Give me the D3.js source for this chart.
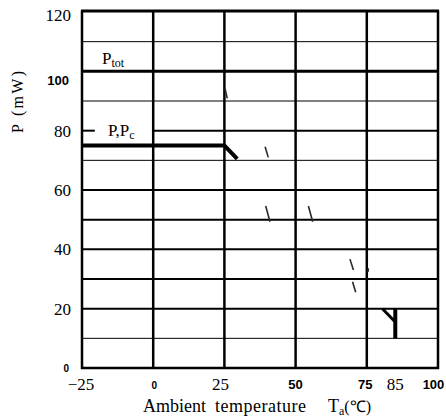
<!DOCTYPE html>
<html>
<head>
<meta charset="utf-8">
<script src="https://cdn.jsdelivr.net/npm/d3@7"></script>
<style>
  body { margin: 0; background: #fff; }
  text { fill: #000; }
</style>
</head>
<body>
<div id="chart"></div>
<script>
// Chart values
const tempTicks = [-25, 0, 25, 50, 75, 85, 100];
const tempTickLabels = ["\u221225", "0", "25", "50", "75", "85", "100"];
const powerTicks = [0, 20, 40, 60, 80, 100, 120];
const gridTemps = [-25, 0, 25, 50, 75, 100];
const gridPowers = [10, 20, 30, 40, 50, 60, 70, 80, 90, 100, 110];
const ptotLevel = 100;
const pcCurve = [[-25, 75], [25, 75], [29.5, 70.5]];
// broken pieces of the dashed derating line (scan fragments)
const deratingFragments = [
  [[25.2, 94.3], [26.0, 90.9]],
  [[39.3, 74.6], [40.4, 71.0]],
  [[39.5, 54.6], [41.0, 49.3]],
  [[54.5, 54.6], [56.0, 49.3]],
  [[69.1, 36.7], [70.3, 33.0]],
  [[70.0, 29.1], [71.1, 25.5]],
  [[75.6, 33.6], [75.4, 32.4]]
];
const cutoffArm = [[80.5, 20], [85, 15.5]];
const cutoffStem = [[85, 20], [85, 10]];

const width = 446;
const height = 420;

const x = d3.scaleLinear().domain([-25, 100]).range([82, 438]);
const y = d3.scaleLinear().domain([0, 120]).range([368, 12]);

const serif = "'Liberation Serif', 'Times New Roman', serif";
const sans = "'Liberation Sans', Arial, sans-serif";

const svg = d3.select("#chart")
    .append("svg")
    .attr("width", width)
    .attr("height", height);

const line = d3.line().x(d => x(d[0])).y(d => y(d[1]));

// horizontal grid lines
const thin = new Set([10, 70, 90, 110]);
gridPowers.forEach(p => {
    // the 80 line is broken around the P,Pc label
    const spans = p === 80 ? [[-25, -20.5], [0, 100]] : [[-25, 100]];
    spans.forEach(s => {
        svg.append("line")
            .attr("x1", x(s[0])).attr("x2", x(s[1]))
            .attr("y1", y(p)).attr("y2", y(p))
            .attr("stroke", "#000")
            .attr("stroke-width", p === ptotLevel ? 3 : thin.has(p) ? 1 : 2);
    });
});

// vertical grid lines
svg.append("g").selectAll("line")
    .data(gridTemps)
    .enter()
    .append("line")
    .attr("x1", d => x(d)).attr("x2", d => x(d))
    .attr("y1", y(120) - 1.5).attr("y2", y(0) + 1)
    .attr("stroke", "#000")
    .attr("stroke-width", 2.5);

// top and bottom border
svg.append("line")
    .attr("x1", x(-25) - 1).attr("x2", x(100) + 1)
    .attr("y1", y(120) - 1).attr("y2", y(120) - 1)
    .attr("stroke", "#000").attr("stroke-width", 3);
svg.append("line")
    .attr("x1", x(-25) - 1).attr("x2", x(100) + 1)
    .attr("y1", y(0)).attr("y2", y(0))
    .attr("stroke", "#000").attr("stroke-width", 2.5);

// P, Pc curve
svg.append("path")
    .attr("d", line(pcCurve))
    .attr("fill", "none")
    .attr("stroke", "#000")
    .attr("stroke-width", 4);

// dashed derating fragments
svg.append("g").selectAll("path")
    .data(deratingFragments)
    .enter()
    .append("path")
    .attr("d", line)
    .attr("fill", "none")
    .attr("stroke", "#2a2a2a")
    .attr("stroke-width", 1.6);

// cut-off mark at 85
svg.append("path")
    .attr("d", line(cutoffArm))
    .attr("fill", "none").attr("stroke", "#000").attr("stroke-width", 3);
svg.append("path")
    .attr("d", line(cutoffStem))
    .attr("fill", "none").attr("stroke", "#000").attr("stroke-width", 4);

// y tick labels
const sansY = new Set([0, 100]);
const yOffset = {120: 3, 100: 10};
svg.append("g").selectAll("text")
    .data(powerTicks)
    .enter()
    .append("text")
    .attr("x", d => sansY.has(d) ? 69 : 71)
    .attr("y", d => y(d) + (yOffset[d] || 0) + (sansY.has(d) ? 4 : 6))
    .attr("text-anchor", "end")
    .style("font-family", d => sansY.has(d) ? sans : serif)
    .style("font-weight", d => sansY.has(d) ? "bold" : "normal")
    .style("font-size", d => d === 0 ? "10px" : sansY.has(d) ? "13px" : "17px")
    .text(d => d);

// x tick labels
const sansX = new Set([0, 50, 75, 100]);
const xOffset = {25: -4, 85: 0, 100: -4.5, 75: -1.5, 0: 1, "-25": -1};
svg.append("g").selectAll("text")
    .data(tempTicks)
    .enter()
    .append("text")
    .attr("x", d => x(d) + (xOffset[d] || 0))
    .attr("y", d => sansX.has(d) ? 389 : 390)
    .attr("text-anchor", "middle")
    .style("font-family", d => sansX.has(d) ? sans : serif)
    .style("font-weight", d => sansX.has(d) ? "bold" : "normal")
    .style("font-size", d => d === 0 ? "10px" : sansX.has(d) ? "13px" : "17px")
    .text((d, i) => tempTickLabels[i]);

// series labels
const ptot = svg.append("text")
    .attr("x", 102).attr("y", 64)
    .style("font-family", serif).style("font-size", "17px");
ptot.append("tspan").text("P");
ptot.append("tspan").attr("dy", 3).style("font-size", "12px").text("tot");

const pc = svg.append("text")
    .attr("x", 108).attr("y", 136)
    .style("font-family", serif).style("font-size", "17px");
pc.append("tspan").text("P,P");
pc.append("tspan").attr("dy", 3).style("font-size", "12px").text("c");

// axis titles
svg.append("text")
    .attr("transform", "translate(23,102) rotate(-90)")
    .attr("text-anchor", "middle")
    .attr("textLength", 62)
    .attr("lengthAdjust", "spacing")
    .style("font-family", serif).style("font-size", "16px")
    .text("P (mW)");

const xt = svg.append("text")
    .attr("y", 412)
    .style("font-family", serif).style("font-size", "18px");
xt.append("tspan").attr("x", 143).text("Ambient");
xt.append("tspan").attr("x", 215).attr("textLength", 91).text("temperature");
xt.append("tspan").attr("x", 328).style("font-size", "18px").text("T");
xt.append("tspan").attr("dy", 3).style("font-size", "12px").text("a");
xt.append("tspan").attr("dy", -3).style("font-size", "16px").text("(\u2103)");
</script>
</body>
</html>
